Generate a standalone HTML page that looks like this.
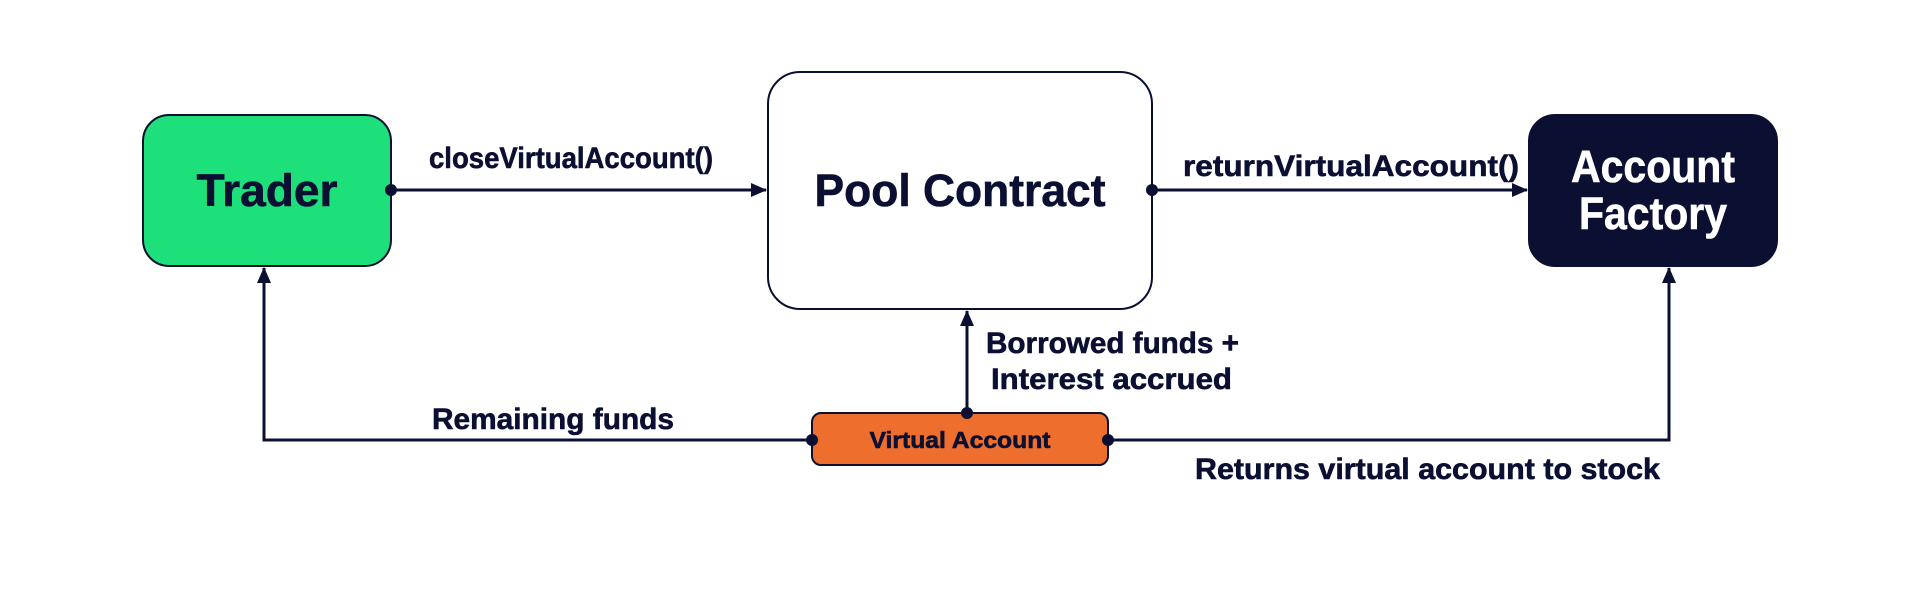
<!DOCTYPE html>
<html><head><style>
body{margin:0;width:1920px;height:600px;background:#fff;overflow:hidden}
svg{display:block}
text{font-family:"Liberation Sans",sans-serif;font-weight:bold;fill:#0b1033;stroke:#0b1033;stroke-width:0.6}
</style></head><body>
<svg width="1920" height="600" viewBox="0 0 1920 600">
<defs>
<marker id="b" viewBox="0 0 16 16" markerWidth="16" markerHeight="16" refX="15" refY="8" orient="auto" markerUnits="userSpaceOnUse"><path d="M0,1 L16,8 L0,15 z" fill="#0b1033"/></marker></defs>
<g stroke="#0b1033" stroke-width="3" fill="none">
<rect x="143" y="115" width="248" height="151" rx="26" fill="#1de07a" stroke-width="2"/>
<rect x="768" y="72" width="384" height="237" rx="32" fill="#fff" stroke-width="2"/>
<rect x="1529" y="115" width="248" height="151" rx="26" fill="#0b1033" stroke-width="2"/>
<rect x="812" y="413" width="296" height="52" rx="9" fill="#ed6e2d" stroke-width="2"/>
<line x1="391" y1="190" x2="766" y2="190" marker-end="url(#b)"/>
<line x1="1152" y1="190" x2="1527" y2="190" marker-end="url(#b)"/>
<line x1="967" y1="413" x2="967" y2="311" marker-end="url(#b)"/>
<polyline points="812,440 264,440 264,268" marker-end="url(#b)"/>
<polyline points="1108,440 1669,440 1669,268" marker-end="url(#b)"/>
</g>
<g fill="#0b1033">
<circle cx="391" cy="190" r="6"/><circle cx="1152" cy="190" r="6"/>
<circle cx="967" cy="413" r="6"/><circle cx="812" cy="440" r="6"/><circle cx="1108" cy="440" r="6"/>
</g>
<text x="267" y="206" font-size="45" text-anchor="middle" textLength="141" lengthAdjust="spacingAndGlyphs">Trader</text>
<text x="960" y="206" font-size="45" text-anchor="middle" textLength="291" lengthAdjust="spacingAndGlyphs">Pool Contract</text>
<text x="1653" y="182" font-size="45" text-anchor="middle" textLength="164" lengthAdjust="spacingAndGlyphs" style="fill:#fff;stroke:#fff">Account</text>
<text x="1653" y="229" font-size="45" text-anchor="middle" textLength="148" lengthAdjust="spacingAndGlyphs" style="fill:#fff;stroke:#fff">Factory</text>
<text x="960" y="448" font-size="23" text-anchor="middle" textLength="181" lengthAdjust="spacingAndGlyphs">Virtual Account</text>
<text x="571" y="168" font-size="30" text-anchor="middle" textLength="284" lengthAdjust="spacingAndGlyphs">closeVirtualAccount()</text>
<text x="1351" y="176" font-size="30" text-anchor="middle" textLength="336" lengthAdjust="spacingAndGlyphs">returnVirtualAccount()</text>
<text x="553" y="429" font-size="30" text-anchor="middle" textLength="242" lengthAdjust="spacingAndGlyphs">Remaining funds</text>
<text x="986" y="353" font-size="30" textLength="253" lengthAdjust="spacingAndGlyphs">Borrowed funds +</text>
<text x="991" y="389" font-size="30" textLength="241" lengthAdjust="spacingAndGlyphs">Interest accrued</text>
<text x="1195" y="479" font-size="30" textLength="465" lengthAdjust="spacingAndGlyphs">Returns virtual account to stock</text>
</svg>
</body></html>
